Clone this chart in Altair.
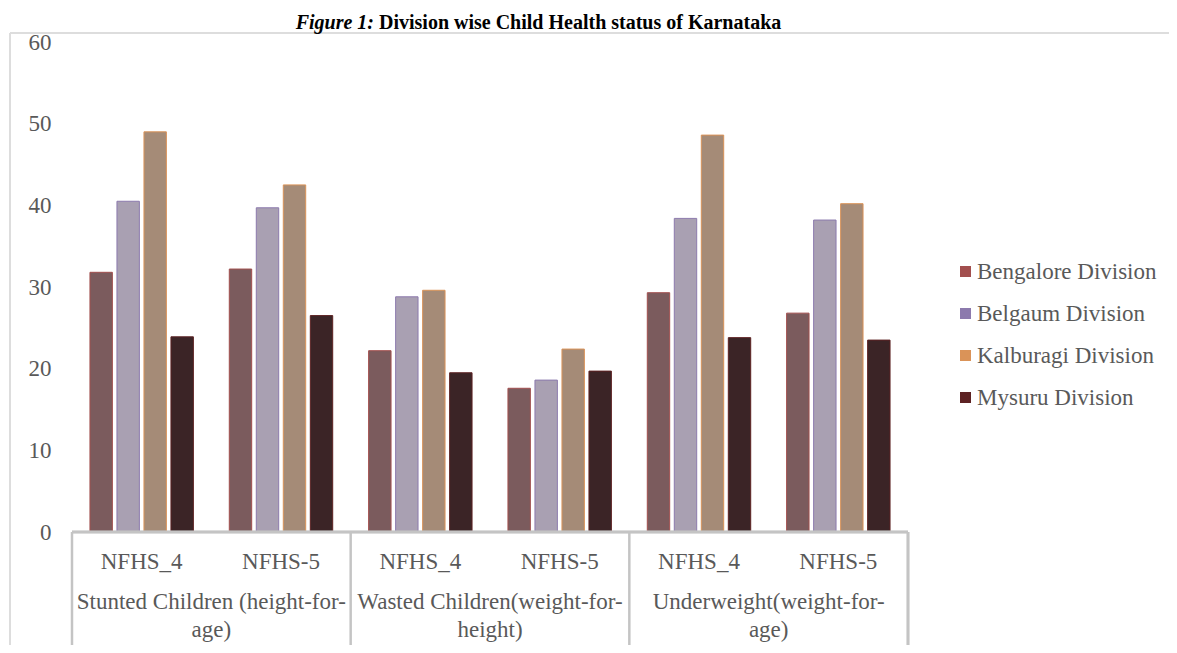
import altair as alt
import pandas as pd

# ---- data ----
group_labels = [
    "Stunted Children (height-for-\nage)",
    "Wasted Children(weight-for-\nheight)",
    "Underweight(weight-for-\nage)",
]
rounds = ["NFHS_4", "NFHS-5"]
divisions = ["Bengalore Division", "Belgaum Division", "Kalburagi Division", "Mysuru Division"]

# order: Stunted NFHS_4, Stunted NFHS-5, Wasted NFHS_4, Wasted NFHS-5, Underweight NFHS_4, Underweight NFHS-5
bengalore = [31.8, 32.2, 22.2, 17.6, 29.3, 26.8]
belgaum = [40.5, 39.7, 28.8, 18.6, 38.4, 38.2]
kalburagi = [49.0, 42.5, 29.6, 22.4, 48.6, 40.2]
mysuru = [23.9, 26.5, 19.5, 19.7, 23.8, 23.5]

y_ticks = [0, 10, 20, 30, 40, 50, 60]

title_a = "Figure 1:"
title_b = "Division wise Child Health status of Karnataka"

# ---- styling ----
FONT = "Liberation Serif"
TXT = "#595959"
LINE = "#c4c4c4"
bright = ["#a24f4e", "#8c7aad", "#da9358", "#5d2223"]
muted = ["#7b5b5d", "#a9a0b2", "#a58b77", "#3b2426"]

series = [bengalore, belgaum, kalburagi, mysuru]
slots = [f"{gi}|{r}" for gi in range(len(group_labels)) for r in rounds]

rows = []
for d, vals in zip(divisions, series):
    for s, v in zip(slots, vals):
        rows.append({"slot": s, "division": d, "value": v})
df = pd.DataFrame(rows)

W, H = 836, 490

xscale = alt.Scale(domain=slots, paddingInner=0, paddingOuter=0)
yscale = alt.Scale(domain=[0, 60], nice=False, zero=True)
xoff = alt.XOffset("division:N", sort=divisions,
                   scale=alt.Scale(domain=divisions, paddingInner=0.17, paddingOuter=0.665))

bars = alt.Chart(df).mark_bar(strokeWidth=1).encode(
    x=alt.X("slot:N", scale=xscale, sort=slots, axis=None),
    xOffset=xoff,
    y=alt.Y("value:Q", scale=yscale, axis=alt.Axis(
        values=y_ticks, title=None, domain=False, ticks=False, grid=False,
        labelPadding=21, labelFont=FONT, labelFontSize=23, labelColor=TXT)),
    fill=alt.Fill("division:N", scale=alt.Scale(domain=divisions, range=muted), legend=None),
    stroke=alt.Stroke("division:N", scale=alt.Scale(domain=divisions, range=bright), legend=None),
)

legend_layer = alt.Chart(df).mark_bar().encode(
    x=alt.X("slot:N", scale=xscale, sort=slots, axis=None),
    xOffset=xoff,
    y=alt.datum(0),
    color=alt.Color("division:N", sort=divisions,
                    scale=alt.Scale(domain=divisions, range=bright),
                    legend=alt.Legend(title=None, orient="none", legendX=882, legendY=218,
                                      symbolType="square", symbolSize=121, symbolStrokeWidth=0,
                                      labelFont=FONT, labelFontSize=23, labelColor=TXT,
                                      rowPadding=18, labelOffset=0, padding=0, labelLimit=400)),
)

# hierarchical category axis
cat_df = pd.DataFrame({"slot": slots, "round": [s.split("|")[1] for s in slots]})
cat_text = alt.Chart(cat_df).mark_text(font=FONT, fontSize=23, color=TXT, baseline="middle").encode(
    x=alt.X("slot:N", scale=xscale, sort=slots, axis=None),
    y=alt.value(520),
    text="round:N",
)

grp_df = pd.DataFrame({"slot": [f"{gi}|{rounds[1]}" for gi in range(len(group_labels))],
                       "label": group_labels})
grp_text = alt.Chart(grp_df).mark_text(font=FONT, fontSize=23, color=TXT, baseline="middle",
                                       lineBreak="\n", lineHeight=28).encode(
    x=alt.X("slot:N", scale=xscale, sort=slots, axis=None, bandPosition=0),
    y=alt.value(560),
    text="label:N",
)

bound_df = pd.DataFrame({"slot": [f"{gi}|{rounds[0]}" for gi in range(len(group_labels))]})
bounds = alt.Chart(bound_df).mark_rule(color=LINE, strokeWidth=2.5).encode(
    x=alt.X("slot:N", scale=xscale, sort=slots, axis=None, bandPosition=0),
    y=alt.value(490),
    y2=alt.value(603),
)
end_rule = alt.Chart(bound_df).mark_rule(color=LINE, strokeWidth=2.5).encode(
    x=alt.value(W), y=alt.value(490), y2=alt.value(603))
base_rule = alt.Chart(bound_df).mark_rule(color=LINE, strokeWidth=2.5).encode(
    x=alt.value(0), x2=alt.value(W), y=alt.datum(0))

# chart frame lines
frame_left = alt.Chart(bound_df).mark_rule(color="#dcdcdc", strokeWidth=1.5).encode(
    x=alt.value(-62), y=alt.value(-9), y2=alt.value(603))
frame_top = alt.Chart(bound_df).mark_rule(color="#dcdcdc", strokeWidth=1.5).encode(
    x=alt.value(-62), x2=alt.value(1097), y=alt.value(-9))

t_df = pd.DataFrame({"a": [title_a], "b": [title_b]})
title_1 = alt.Chart(t_df).mark_text(font=FONT, fontSize=20, fontWeight="bold", fontStyle="italic",
                                    color="black", align="right", baseline="alphabetic").encode(
    x=alt.value(302), y=alt.value(-13), text="a:N")
title_2 = alt.Chart(t_df).mark_text(font=FONT, fontSize=20, fontWeight="bold",
                                    color="black", align="left", baseline="alphabetic").encode(
    x=alt.value(307), y=alt.value(-13), text="b:N")

chart = alt.layer(
    frame_left, frame_top, legend_layer, bars, base_rule, bounds, end_rule,
    cat_text, grp_text, title_1, title_2,
).properties(
    width=W, height=H,
    autosize=alt.AutoSizeParams(type="none"),
    padding={"left": 64, "top": 34, "right": 261, "bottom": 113},
).configure_view(stroke=None)

chart.save("out.html", embed_options={"renderer": "svg", "actions": False})
